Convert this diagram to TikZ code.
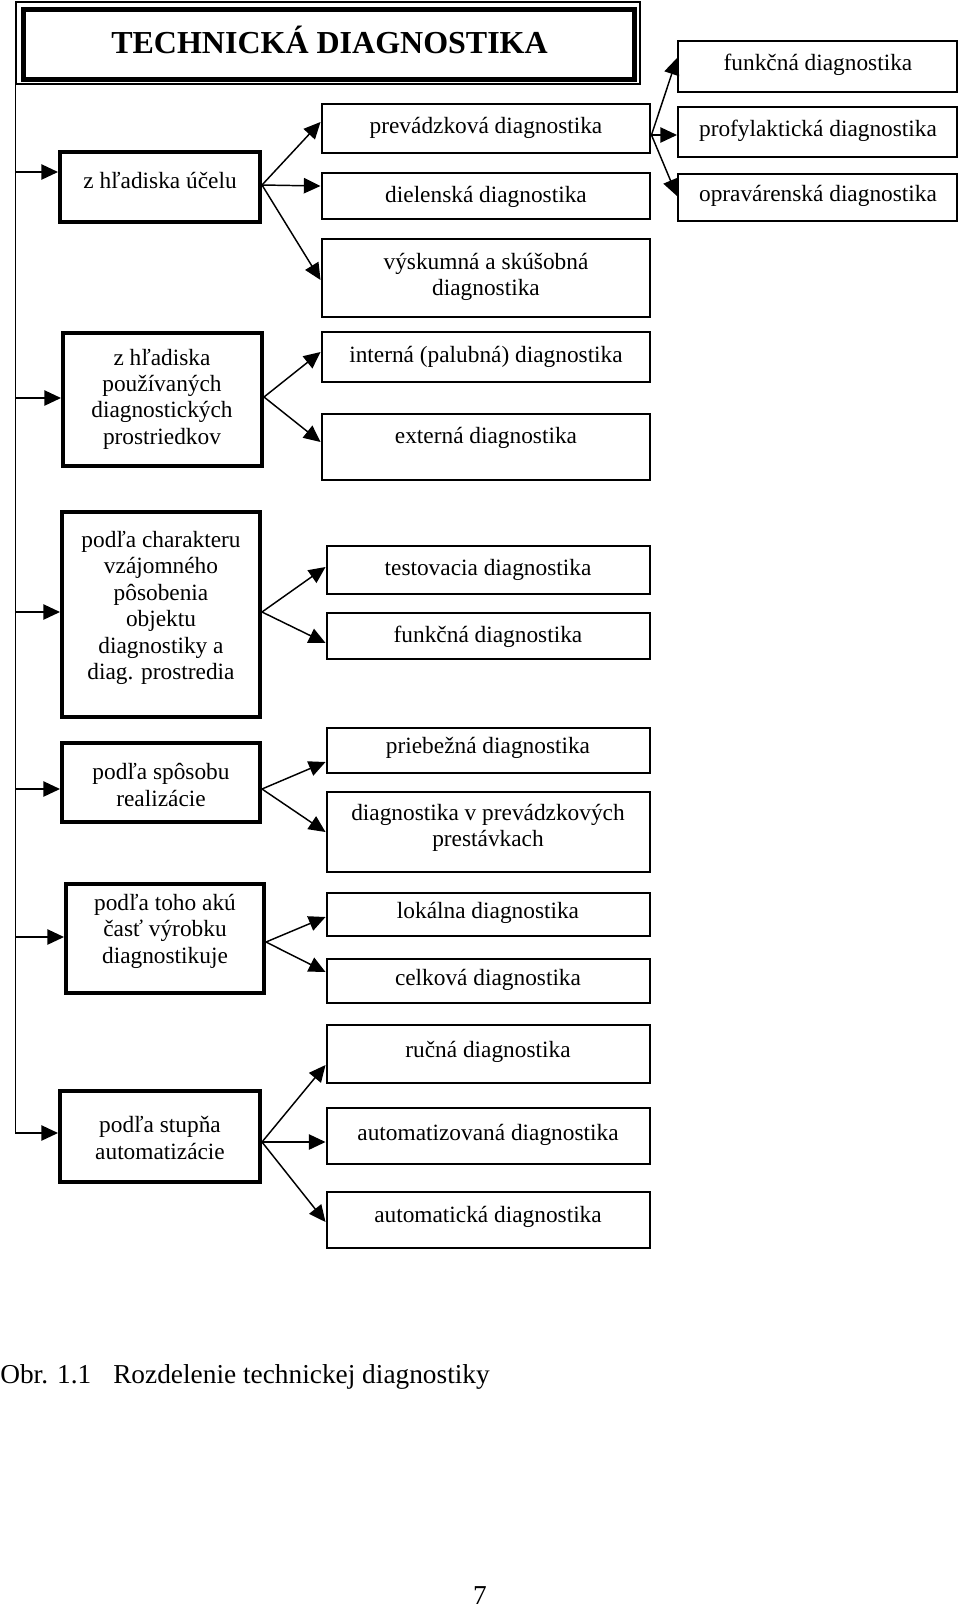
\documentclass[tikz,border=0pt]{standalone}
\usepackage{fontspec}
\setmainfont{Liberation Serif}
\usetikzlibrary{arrows.meta,fit}
\begin{document}
\begin{tikzpicture}[x=0.75pt,y=-0.75pt,
  thickbox/.style={draw, line width=3pt, inner sep=0pt},
  midbox/.style={draw, line width=2.2pt, inner sep=0pt},
  thinbox/.style={draw, line width=1.5pt, inner sep=0pt},
  txt/.style={font=\fontsize{17.5}{19.8}\selectfont, align=center, inner sep=0pt},
  captxt/.style={font=\fontsize{20.5}{24}\selectfont, inner sep=0pt},
  arr/.style={line width=1.1pt, -{Triangle[length=12.5pt,width=11.5pt]}}]
\useasboundingbox (0,0) rectangle (960,1607);

% title
\node[draw, line width=1pt, inner sep=0pt, fit={(16,2) (640,84)}] (Tout) {};
\node[draw, line width=3.75pt, inner sep=0pt, fit={(23,9) (634,79)}] (Tin) {};
\node[font=\fontsize{24}{28}\selectfont\bfseries, anchor=base west, inner sep=0pt] (Tt) at (111,53) {TECHNICKÁ DIAGNOSTIKA};

% left boxes
\node[thickbox, fit={(60,152) (260,222)}] (L1) {};
\node[txt] (L1t) at (160,180) {z hľadiska účelu};
\node[thickbox, fit={(63,333) (262,466)}] (L2) {};
\node[txt] (L2t) at (162,399) {z hľadiska\\používaných\\diagnostických\\prostriedkov};
\node[thickbox, fit={(62,512) (260,717)}] (L3) {};
\node[txt] (L3t) at (161,608) {podľa charakteru\\vzájomného\\pôsobenia\\objektu\\diagnostiky a\\diag. prostredia};
\node[thickbox, fit={(62,743) (260,822)}] (L4) {};
\node[txt] (L4t) at (161,785) {podľa spôsobu\\realizácie};
\node[thickbox, fit={(66,884) (264,993)}] (L5) {};
\node[txt] (L5t) at (165,931) {podľa toho akú\\časť výrobku\\diagnostikuje};
\node[thickbox, fit={(60,1091) (260,1182)}] (L6) {};
\node[txt] (L6t) at (160,1138) {podľa stupňa\\automatizácie};

% middle boxes
\node[midbox, fit={(322,104) (650,153)}] (m1) {};
\node[txt] (m1t) at (486,128) {prevádzková diagnostika};
\node[midbox, fit={(322,173) (650,219)}] (m2) {};
\node[txt] (m2t) at (486,197) {dielenská diagnostika};
\node[midbox, fit={(322,239) (650,317)}] (m3) {};
\node[txt] (m3t) at (486,277) {výskumná a skúšobná\\diagnostika};
\node[midbox, fit={(322,332) (650,382)}] (m4) {};
\node[txt] (m4t) at (486,357) {interná (palubná) diagnostika};
\node[midbox, fit={(322,414) (650,480)}] (m5) {};
\node[txt] (m5t) at (486,438) {externá diagnostika};
\node[midbox, fit={(327,546) (650,594)}] (m6) {};
\node[txt] (m6t) at (488,570) {testovacia diagnostika};
\node[midbox, fit={(327,613) (650,659)}] (m7) {};
\node[txt] (m7t) at (488,637) {funkčná diagnostika};
\node[midbox, fit={(327,728) (650,773)}] (m8) {};
\node[txt] (m8t) at (488,748) {priebežná diagnostika};
\node[midbox, fit={(327,792) (650,872)}] (m9) {};
\node[txt] (m9t) at (488,828) {diagnostika v prevádzkových\\prestávkach};
\node[midbox, fit={(327,893) (650,936)}] (m10) {};
\node[txt] (m10t) at (488,913) {lokálna diagnostika};
\node[midbox, fit={(327,959) (650,1003)}] (m11) {};
\node[txt] (m11t) at (488,980) {celková diagnostika};
\node[midbox, fit={(327,1025) (650,1083)}] (m12) {};
\node[txt] (m12t) at (488,1052) {ručná diagnostika};
\node[midbox, fit={(327,1108) (650,1164)}] (m13) {};
\node[txt] (m13t) at (488,1135) {automatizovaná diagnostika};
\node[midbox, fit={(327,1192) (650,1248)}] (m14) {};
\node[txt] (m14t) at (488,1217) {automatická diagnostika};

% right boxes
\node[thinbox, fit={(678,41) (957,92)}] (r1) {};
\node[txt] (r1t) at (818,65) {funkčná diagnostika};
\node[thinbox, fit={(678,107) (957,157)}] (r2) {};
\node[txt] (r2t) at (818,131) {profylaktická diagnostika};
\node[thinbox, fit={(678,174) (957,221)}] (r3) {};
\node[txt] (r3t) at (818,196) {opravárenská diagnostika};

% trunk and branches
\draw[arr] (Tout.south west) |- (L6.west |- 0,1133);
\draw[arr] (Tout.south west |- 0,172) -- (L1.west |- 0,172);
\draw[arr] (Tout.south west |- 0,398) -- (L2.west |- 0,398);
\draw[arr] (Tout.south west |- 0,612) -- (L3.west |- 0,612);
\draw[arr] (Tout.south west |- 0,789) -- (L4.west |- 0,789);
\draw[arr] (Tout.south west |- 0,937) -- (L5.west |- 0,937);

% fans
\coordinate (f1) at (L1.east |- 0,185);
\draw[arr] (f1) -- (m1.west |- 0,122);
\draw[arr] (f1) -- (m2.west |- 0,186);
\draw[arr] (f1) -- (m3.west |- 0,280);
\coordinate (f2) at (L2.east |- 0,397);
\draw[arr] (f2) -- (m4.west |- 0,352);
\draw[arr] (f2) -- (m5.west |- 0,442);
\coordinate (f3) at (L3.east |- 0,612);
\draw[arr] (f3) -- (m6.west |- 0,567);
\draw[arr] (f3) -- (m7.west |- 0,643);
\coordinate (f4) at (L4.east |- 0,789);
\draw[arr] (f4) -- (m8.west |- 0,762);
\draw[arr] (f4) -- (m9.west |- 0,832);
\coordinate (f5) at (L5.east |- 0,942);
\draw[arr] (f5) -- (m10.west |- 0,917);
\draw[arr] (f5) -- (m11.west |- 0,972);
\coordinate (f6) at (L6.east |- 0,1142);
\draw[arr] (f6) -- (m12.west |- 0,1065);
\draw[arr] (f6) -- (m13.west |- 0,1142);
\draw[arr] (f6) -- (m14.west |- 0,1222);
\coordinate (f7) at (m1.east |- 0,135);
\draw[arr] (f7) -- (r1.west |- 0,58);
\draw[arr] (f7) -- (r2.west |- 0,135);
\draw[arr] (f7) -- (r3.west |- 0,196);

% caption and page number
\node[captxt, anchor=base west] (c1) at (0,1383) {Obr. 1.1};
\node[captxt, anchor=base west] (c2) at (113,1383) {Rozdelenie technickej diagnostiky};
\node[captxt, anchor=base] (pg) at (480,1604) {7};
\end{tikzpicture}
\end{document}
